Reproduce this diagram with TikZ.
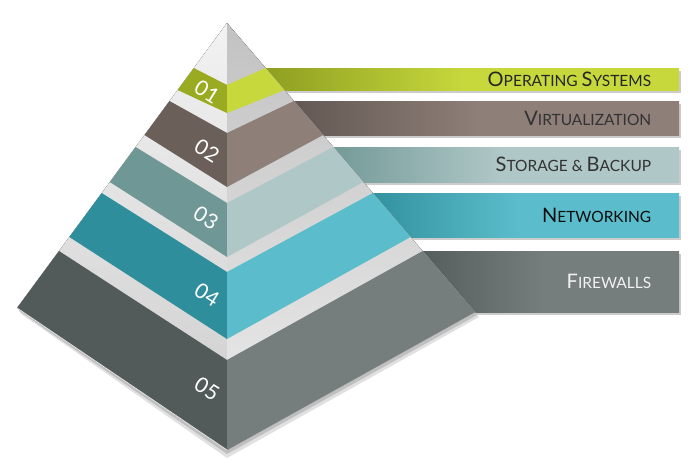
\documentclass[tikz,border=0pt]{standalone}
\usepackage{fontspec}
\setmainfont{Lato}
\usepackage{tikz}
\usepackage{xcolor}
\usetikzlibrary{calc, positioning, shadows}

\definecolor{osdark}{HTML}{9AAB22}
\definecolor{oslight}{HTML}{C6D83C}
\definecolor{virtdark}{HTML}{6A5F59}
\definecolor{virtlight}{HTML}{8E7F78}
\definecolor{stordark}{HTML}{6F9795}
\definecolor{storlight}{HTML}{AFC7C6}
\definecolor{netdark}{HTML}{2F8E9C}
\definecolor{netlight}{HTML}{5BBDCB}
\definecolor{fwdark}{HTML}{525A5A}
\definecolor{fwlight}{HTML}{767D7D}

\newcommand{\initcap}[1]{{\fontsize{20}{21}\selectfont #1}}

\begin{document}
\begin{tikzpicture}[
    x=1pt, y=-1pt,
    bar/.style={rectangle, anchor=north west, inner sep=0pt,
        drop shadow={shadow xshift=1.5pt, shadow yshift=-3pt, fill=black!40, opacity=0.5}},
    lbl/.style={font=\fontsize{15.5}{17}\selectfont, inner sep=0pt, anchor=east},
    num/.style={font=\fontsize{21}{22}\selectfont, text=white, rotate=-32, inner sep=0pt}
]

\useasboundingbox (0,0) rectangle (700,471);

% Bars
\node[bar, minimum width=429, minimum height=22, left color=osdark!90!black, right color=oslight, middle color=oslight] (os) at (250,68) {};
\node[bar, minimum width=399, minimum height=34, left color=virtdark!90!black, right color=virtlight, middle color=virtlight] (virt) at (280,101) {};
\node[bar, minimum width=359, minimum height=35, left color=stordark, right color=storlight, middle color=storlight] (stor) at (320,147) {};
\node[bar, minimum width=319, minimum height=44, left color=netdark, right color=netlight, middle color=netlight] (net) at (360,193) {};
\node[bar, minimum width=269, minimum height=61, left color=fwdark, right color=fwlight, middle color=fwlight] (fw) at (410,251) {};

% Labels
\node[lbl, text=black!85, left=28pt of os.east] (oslbl) {\initcap{O}PERATING \initcap{S}YSTEMS};
\node[lbl, text=black!80, left=28pt of virt.east] (virtlbl) {\initcap{V}IRTUALIZATION};
\node[lbl, text=black!80, left=28pt of stor.east] (storlbl) {\initcap{S}TORAGE \& \initcap{B}ACKUP};
\node[lbl, text=black!95, left=28pt of net.east] (netlbl) {\initcap{N}ETWORKING};
\node[lbl, text=white!95!black, left=28pt of fw.east] (fwlbl) {\initcap{F}IREWALLS};

% Pyramid corners
\coordinate (A) at (227,23);
\coordinate (L) at (17,308);
\coordinate (B) at (227,450);
\coordinate (R) at (475,312);

% Shadow
\fill[black!12] ($(L)+(3,5)$) -- ($(B)+(0,8)$) -- ($(R)+(4,5)$) -- (A) -- cycle;
\fill[black!25] ($(L)+(2,3)$) -- ($(B)+(0,4)$) -- ($(R)+(2,3)$) -- (A) -- cycle;

% Faces
\fill[top color=white!95!black, bottom color=black!20] (A) -- (L) -- (B) -- cycle;
\fill[top color=black!24, bottom color=black!7] (A) -- (B) -- (R) -- cycle;

% Layer 1
\fill[osdark] (193.8,68) -- (227,85) -- (227,113) -- (177.6,90) -- cycle;
\fill[oslight] (227,85) -- (265.6,68) -- (284.5,90) -- (227,113) -- cycle;

% Layer 2
\fill[virtdark] (169.5,101) -- (227,133) -- (227,187) -- (144.5,135) -- cycle;
\fill[virtlight] (227,133) -- (293.9,101) -- (323.1,135) -- (227,187) -- cycle;

% Layer 3
\fill[stordark] (135.6,147) -- (227,203) -- (227,257) -- (109.8,182) -- cycle;
\fill[storlight] (227,203) -- (333.4,147) -- (363.4,182) -- (227,257) -- cycle;

% Layer 4
\fill[netdark] (101.7,193) -- (227,272) -- (227,339) -- (69.3,237) -- cycle;
\fill[netlight] (227,272) -- (372.9,193) -- (410.6,237) -- (227,339) -- cycle;

% Layer 5
\fill[fwdark] (59,251) -- (227,360) -- (B) -- (L) -- cycle;
\fill[fwlight] (227,360) -- (422.7,251) -- (R) -- (B) -- cycle;

\draw[white!90!black, line width=0.8pt] (L) -- (B);

% Numbers
\node[num] (n1) at (207,92) {01};
\node[num] (n2) at (207,151) {02};
\node[num] (n3) at (206,218) {03};
\node[num] (n4) at (207,295) {04};
\node[num] (n5) at (207,389) {05};

\end{tikzpicture}
\end{document}
